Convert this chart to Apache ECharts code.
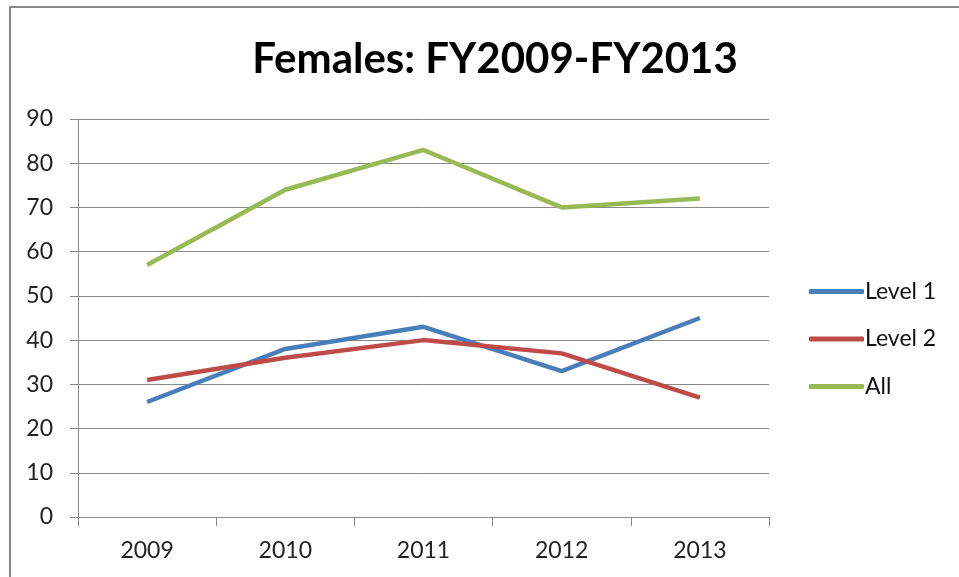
<!DOCTYPE html>
<html>
<head>
<meta charset="utf-8">
<script src="https://cdn.jsdelivr.net/npm/echarts@6/dist/echarts.min.js"></script>
<style>
  html, body { margin: 0; padding: 0; background: #fff; }
  #chart { width: 959px; height: 577px; }
</style>
</head>
<body>
<div id="chart"></div>
<script>
const years = ['2009', '2010', '2011', '2012', '2013']
const level1 = [26, 38, 43, 33, 45]
const level2 = [31, 36, 40, 37, 27]
const all = [57, 74, 83, 70, 72]

const font = 'Lato, "Open Sans", sans-serif'

const chart = echarts.init(document.getElementById('chart'))

const options = {
  animation: false,
  title: {
    text: 'Females: FY2009-FY2013',
    left: 490,
    top: 33,
    textAlign: 'center',
    textStyle: { fontFamily: font, fontSize: 42, fontWeight: 'bold', color: '#000' },
  },
  graphic: [
    {
      type: 'rect',
      shape: { x: 10, y: 7, width: 1000, height: 1000 },
      style: { fill: 'none', stroke: '#888', lineWidth: 2 },
    },
  ],
  grid: { left: 78, right: 190, top: 119, bottom: 60 },
  legend: {
    orient: 'vertical',
    left: 809,
    top: 280,
    padding: 0,
    itemWidth: 55,
    itemHeight: 5,
    itemGap: 24.5,
    icon: 'roundRect',
    textStyle: { fontFamily: font, fontSize: 23, color: '#111', padding: [0, 0, 0, -4] },
    data: ['Level 1', 'Level 2', 'All'],
  },
  xAxis: {
    type: 'category',
    data: years,
    boundaryGap: true,
    axisLine: { lineStyle: { color: '#888', width: 1 } },
    axisTick: { show: true, length: 9, lineStyle: { color: '#888' } },
    axisLabel: { fontFamily: font, fontSize: 23, color: '#222', margin: 22 },
  },
  yAxis: {
    type: 'value',
    min: 0,
    max: 90,
    interval: 10,
    axisLine: { show: true, lineStyle: { color: '#888', width: 1 } },
    axisTick: { show: true, length: 8, lineStyle: { color: '#888' } },
    splitLine: { lineStyle: { color: '#888', width: 1 } },
    axisLabel: { fontFamily: font, fontSize: 23, color: '#222', margin: 25 },
  },
  series: [
    {
      name: 'Level 1',
      type: 'line',
      data: level1,
      symbol: 'none',
      itemStyle: { color: '#4a7ebb' },
      lineStyle: { color: '#4a7ebb', width: 4.5 },
    },
    {
      name: 'Level 2',
      type: 'line',
      data: level2,
      symbol: 'none',
      itemStyle: { color: '#be4b48' },
      lineStyle: { color: '#be4b48', width: 4.5 },
    },
    {
      name: 'All',
      type: 'line',
      data: all,
      symbol: 'none',
      itemStyle: { color: '#98b954' },
      lineStyle: { color: '#98b954', width: 4.5 },
    },
  ],
}

chart.setOption(options)
window.onresize = function () {
  chart.resize()
}
</script>
</body>
</html>
